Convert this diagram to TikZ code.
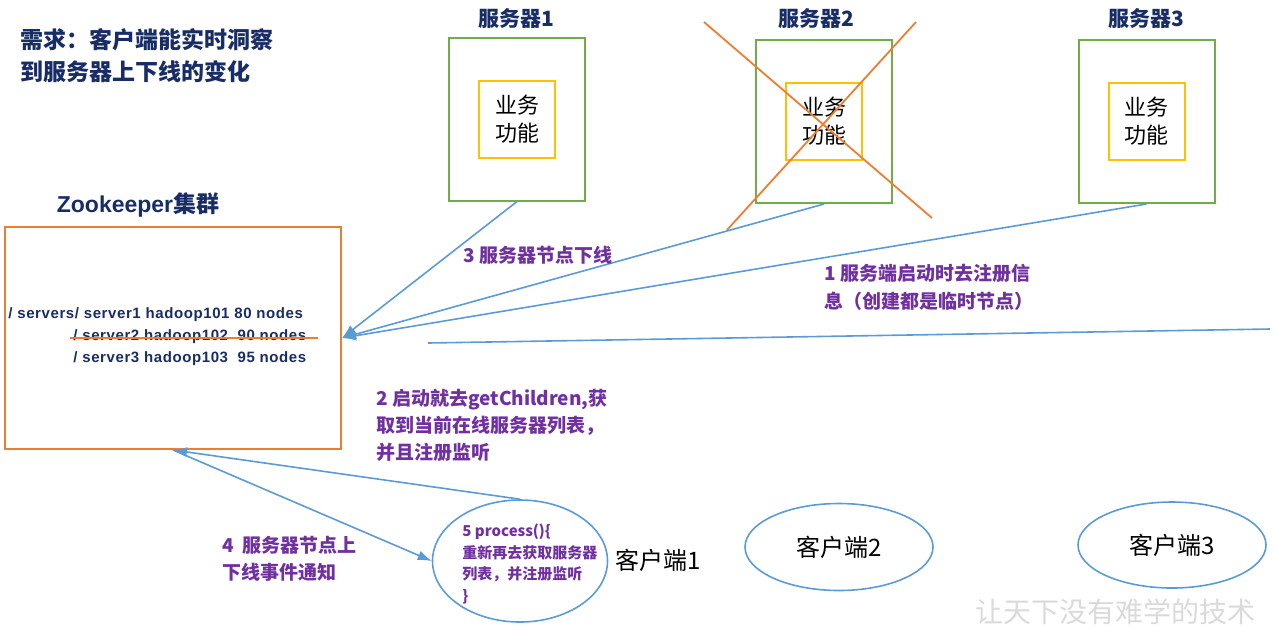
\documentclass[tikz,border=0pt]{standalone}
\usepackage{fontspec}
\setmainfont{Noto Sans CJK SC}
\newfontfamily\latfont{Liberation Sans}
\newfontfamily\pathfont[LetterSpace=4]{Liberation Sans}
\usetikzlibrary{arrows.meta,shapes.geometric}
\definecolor{navy}{RGB}{24,44,102}
\definecolor{zkpurple}{RGB}{112,48,160}
\definecolor{linkblue}{RGB}{91,155,213}
\definecolor{zkorange}{RGB}{237,125,49}
\definecolor{srvgreen}{RGB}{112,173,71}
\definecolor{funcyellow}{RGB}{255,192,0}
\definecolor{markgray}{RGB}{218,218,218}

\tikzset{
  srvbox/.style={draw=srvgreen, line width=1pt, minimum width=68pt, minimum height=81.5pt, inner sep=0pt},
  funcbox/.style={draw=funcyellow, line width=1pt, minimum width=38pt, minimum height=38.5pt,
    inner sep=0pt, align=center, font=\fontsize{11}{14}\selectfont},
  srvtitle/.style={text=navy, inner sep=0pt, font=\fontsize{10.5}{12}\selectfont\bfseries},
  clientnode/.style={draw=linkblue, ellipse, line width=0.8pt, inner sep=0pt, font=\fontsize{12}{14}\selectfont},
  steplabel/.style={text=zkpurple, anchor=west, inner sep=0pt, align=left},
  pathtext/.style={text=navy, anchor=west, inner sep=0pt, font=\pathfont\fontsize{7.5}{9}\selectfont\bfseries},
  arr/.style={draw=linkblue, line width=0.8pt, -{Latex[length=7pt,width=5pt]}},
}

\begin{document}
\begin{tikzpicture}[x=0.5pt, y=-0.5pt]
    \useasboundingbox (0,0) rectangle (1278,628);

    % Requirement
    \node[anchor=west, inner sep=0pt, align=left, text=navy,
          font=\fontsize{11.5}{16}\selectfont\bfseries] (need) at (20,56)
        {需求：客户端能实时洞察\\到服务器上下线的变化};

    % Zookeeper cluster
    \node[draw=zkorange, line width=1pt, minimum width=168pt, minimum height=111pt, inner sep=0pt] (zk) at (173,338) {};
    \node[text=navy, inner sep=0pt, font=\fontsize{11.5}{13}\selectfont\bfseries] (zktitle) at (138,205)
        {{\latfont Zookeeper}集群};
    \node[pathtext] (p1) at (8,315) {/ servers/ server1 hadoop101 80 nodes};
    \node[pathtext] (p2) at (73,337) {/ server2 hadoop102 \ 90 nodes};
    \node[pathtext] (p3) at (73,359) {/ server3 hadoop103 \ 95 nodes};
    \coordinate (cutA) at (70,338);
    \coordinate (cutB) at (318,338);
    \draw[zkorange, line width=1pt] (cutA) -- (cutB);

    % Servers
    \foreach \n/\x/\y/\tx in {1/517/119/516, 2/824/121.5/816, 3/1146.5/121.5/1146} {
        \node[srvbox] (s\n) at (\x,\y) {};
        \node[funcbox] (f\n) at (\x,\y) {业务\\功能};
        \node[srvtitle] (t\n) at (\tx,19) {服务器\n};
    }

    % Server 2 is down
    \coordinate (xA) at (704,22);
    \coordinate (xB) at (932,218);
    \coordinate (xC) at (916,22);
    \coordinate (xD) at (727,230);
    \draw[zkorange, line width=0.9pt] (xA) -- (xB);
    \draw[zkorange, line width=0.9pt] (xC) -- (xD);

    % Registration
    \foreach \n in {1,2,3}
        \draw[arr] (s\n.south) -- (zk.east);
    \coordinate (lnA) at (428,343);
    \coordinate (lnB) at (1270,329);
    \draw[linkblue, line width=0.8pt] (lnA) -- (lnB);

    % Clients
    \node[clientnode, minimum width=87.5pt, minimum height=61pt] (c1) at (520,561) {};
    \node[clientnode, minimum width=94pt, minimum height=43.5pt] (c2) at (839,547) {客户端2};
    \node[clientnode, minimum width=94pt, minimum height=43pt] (c3) at (1172,545) {客户端3};
    \node[anchor=west, inner sep=0pt, font=\fontsize{12}{14}\selectfont] (c1name) at (615,560) {客户端1};
    \node[steplabel, font=\fontsize{7.5}{10.8}\selectfont\bfseries] (proc) at (462,564)
        {5 process()\{\\重新再去获取服务器\\列表，并注册监听\\\}};

    % Watch
    \draw[arr] (c1.north) -- (zk.south);
    \draw[arr] (zk.south) -- (c1.west);

    % Step labels
    \node[steplabel, font=\fontsize{9.5}{14}\selectfont\bfseries] (lbl1) at (824,287)
        {1 服务端启动时去注册信\\息（创建都是临时节点）};
    \node[steplabel, font=\fontsize{9.5}{13.5}\selectfont\bfseries] (lbl2) at (376,425)
        {2 启动就去getChildren,获\\取到当前在线服务器列表，\\并且注册监听};
    \node[steplabel, font=\fontsize{9.5}{13.5}\selectfont\bfseries] (lbl3) at (463,255)
        {3 服务器节点下线};
    \node[steplabel, font=\fontsize{9.5}{13.5}\selectfont\bfseries] (lbl4) at (222,559)
        {4 \ 服务器节点上\\下线事件通知};

    \node[text=markgray, inner sep=0pt, font=\fontsize{14}{16}\selectfont] (mark) at (1115,612)
        {让天下没有难学的技术};
\end{tikzpicture}
\end{document}
